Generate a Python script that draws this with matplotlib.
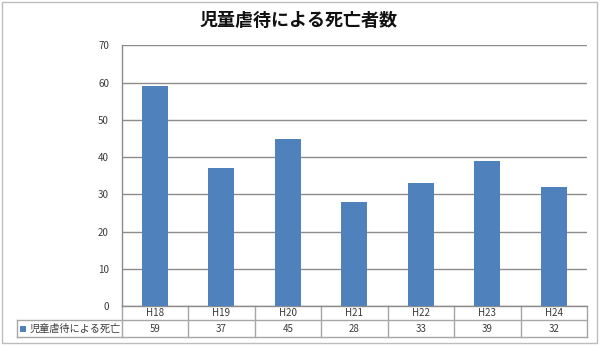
import matplotlib
matplotlib.use('Agg')
import matplotlib.pyplot as plt
from matplotlib.patches import Rectangle
import matplotlib.transforms as mtrans

plt.rcParams['font.family'] = ['Noto Sans CJK JP', 'DejaVu Sans']

title = '児童虐待による死亡者数'
series_name = '児童虐待による死亡'
categories = ['H18', 'H19', 'H20', 'H21', 'H22', 'H23', 'H24']
values = [59, 37, 45, 28, 33, 39, 32]
yticks = [0, 10, 20, 30, 40, 50, 60, 70]

W, H = 600, 346
fig = plt.figure(figsize=(6, 3.46), dpi=100)
fig.patch.set_facecolor('white')


def fx(px):
    return px / W


def fy(py):
    return 1 - py / H


# outer border
fig.patches.append(Rectangle((fx(2), fy(343)), fx(597) - fx(2), fy(2) - fy(343),
                             transform=fig.transFigure, fill=False,
                             edgecolor='#bdbdbd', linewidth=1))

top_px, bot_px, left_px, right_px = 45.3, 306.3, 121.5, 587
ax = fig.add_axes([fx(left_px), fy(bot_px), fx(right_px) - fx(left_px), (bot_px - top_px) / H])
bar_color = '#4F81BD'
ax.bar(range(len(categories)), values, width=0.39, color=bar_color, zorder=3)
ax.set_xlim(-0.5, len(categories) - 0.5)
ax.set_ylim(0, 70)
ax.set_yticks(yticks)
ax.yaxis.grid(True, color='#8c8c8c', linewidth=1)
ax.set_axisbelow(True)
ax.set_xticks([])
for s in ['top', 'right']:
    ax.spines[s].set_visible(False)
for s in ['left', 'bottom']:
    ax.spines[s].set_color('#8c8c8c')
    ax.spines[s].set_linewidth(1)
ax.tick_params(axis='y', length=0, pad=9, labelsize=7, labelcolor='#3a3a3a')

# data table
trans = mtrans.blended_transform_factory(ax.transData, ax.transAxes)
hpx = bot_px - top_px
r1 = -(320.3 - bot_px) / hpx
r2 = -(337.0 - bot_px) / hpx
left_data = ax.transData.inverted().transform(fig.transFigure.transform((fx(17.3), 0)))[0]
lc = '#a6a6a6'
n = len(categories)
ax.plot([left_data, n - 0.5], [r1, r1], transform=trans, color=lc, lw=1, clip_on=False)
ax.plot([left_data, n - 0.5], [r2, r2], transform=trans, color=lc, lw=1, clip_on=False)
for i in range(n + 1):
    ax.plot([i - 0.5, i - 0.5], [0, r2], transform=trans, color=lc, lw=1, clip_on=False)
ax.plot([left_data, left_data], [r1, r2], transform=trans, color=lc, lw=1, clip_on=False)
for i, (c, v) in enumerate(zip(categories, values)):
    ax.text(i, r1 / 2, c, transform=trans, ha='center', va='center', fontsize=7, color='#3a3a3a')
    ax.text(i, (r1 + r2) / 2, str(v), transform=trans, ha='center', va='center', fontsize=7, color='#3a3a3a')

# legend key in table
ymid = (320.3 + 337.0) / 2
fig.patches.append(Rectangle((fx(20), fy(ymid + 3)), fx(6), 6 / H, transform=fig.transFigure,
                             facecolor=bar_color, edgecolor='none'))
fig.text(fx(29.5), fy(ymid), series_name, ha='left', va='center', fontsize=7.3, color='#3a3a3a')

fig.text(fx(299), fy(20.5), title, ha='center', va='center', fontsize=13, fontweight='bold', color='#111111')

fig.savefig('out.png', dpi=100, facecolor='white')
